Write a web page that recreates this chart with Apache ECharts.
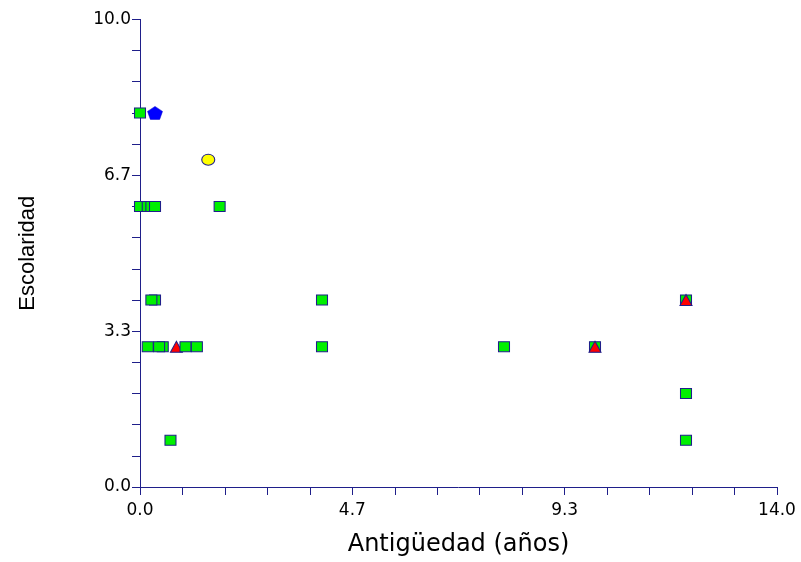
<!DOCTYPE html>
<html>
<head>
<meta charset="utf-8">
<script src="https://cdn.jsdelivr.net/npm/echarts@6/dist/echarts.min.js"></script>
<style>
html,body{margin:0;padding:0;background:#fff;}
#chart{width:801px;height:562px;}
</style>
</head>
<body>
<div id="chart"></div>
<script>
// Green squares (drawn first)
var squareX = [0, 0, 0.17, 0.25, 0.33, 1.75, 0.33, 0.25, 4, 12, 0.17, 0.5, 0.42, 4, 8, 10, 12, 12, 0.67];
var squareY = [8, 6, 6, 6, 6, 6, 4, 4, 4, 4, 3, 3, 3, 3, 3, 3, 2, 1, 1];
// Red triangles
var triangleX = [0.8, 10, 12];
var triangleY = [3, 3, 4];
// Green squares drawn over the triangles
var square2X = [1.0, 1.25];
var square2Y = [3, 3];
// Blue pentagon
var pentagonX = [0.33];
var pentagonY = [8];
// Yellow circle
var circleX = [1.5];
var circleY = [7];

var xTitle = 'Antigüedad (años)';
var yTitle = 'Escolaridad';

function pairs(xs, ys) { return xs.map(function (x, i) { return [x, ys[i]]; }); }

var navy = '#1f1f8a';
var pentagonPath = 'path://M0,-1 L0.951,-0.309 L0.588,0.809 L-0.588,0.809 L-0.951,-0.309 Z';

var chart = echarts.init(document.getElementById('chart'), null, {renderer: 'canvas'});
chart.setOption({
  animation: false,
  backgroundColor: '#ffffff',
  grid: {left: 140, right: 24, top: 19.4, bottom: 69.7, containLabel: false},
  xAxis: {
    type: 'value', min: 0, max: 14, interval: 14 / 3,
    name: xTitle, nameLocation: 'middle', nameGap: 46,
    nameTextStyle: {fontFamily: 'DejaVu Sans', fontSize: 24, color: '#000'},
    axisLine: {onZero: false, lineStyle: {color: navy, width: 1}},
    axisTick: {show: true, inside: false, length: 8, lineStyle: {color: navy}},
    minorTick: {show: true, splitNumber: 5, length: 8, lineStyle: {color: navy}},
    axisLabel: {margin: 15, fontFamily: 'DejaVu Sans', fontSize: 17, color: '#000',
      formatter: function (v) { return v.toFixed(1); }},
    splitLine: {show: false}, minorSplitLine: {show: false}
  },
  yAxis: {
    type: 'value', min: 0, max: 10, interval: 10 / 3,
    name: yTitle, nameLocation: 'middle', nameGap: 101, nameRotate: 90,
    nameTextStyle: {fontFamily: 'Liberation Sans', fontSize: 22, color: '#000'},
    axisLine: {onZero: false, lineStyle: {color: navy, width: 1}},
    axisTick: {show: true, inside: false, length: 8, lineStyle: {color: navy}},
    minorTick: {show: true, splitNumber: 5, length: 8, lineStyle: {color: navy}},
    axisLabel: {margin: 9, fontFamily: 'DejaVu Sans', fontSize: 17, color: '#000',
      formatter: function (v) { return v.toFixed(1); }},
    splitLine: {show: false}, minorSplitLine: {show: false}
  },
  series: [
    {type: 'scatter', data: pairs(squareX, squareY), symbol: 'rect', symbolSize: [11, 10],
      itemStyle: {color: '#00f000', borderColor: navy, borderWidth: 1, opacity: 1}, z: 2},
    {type: 'scatter', data: pairs(triangleX, triangleY), symbol: 'triangle', symbolSize: [12, 11],
      itemStyle: {color: '#ff0000', borderColor: navy, borderWidth: 1, opacity: 1}, z: 3},
    {type: 'scatter', data: pairs(square2X, square2Y), symbol: 'rect', symbolSize: [11, 10],
      itemStyle: {color: '#00f000', borderColor: navy, borderWidth: 1, opacity: 1}, z: 4},
    {type: 'scatter', data: pairs(pentagonX, pentagonY), symbol: pentagonPath, symbolSize: [15, 13],
      symbolKeepAspect: false,
      itemStyle: {color: '#0000ff', borderColor: '#0000cc', borderWidth: 0.5, opacity: 1}, z: 5},
    {type: 'scatter', data: pairs(circleX, circleY), symbol: 'circle', symbolSize: [13, 11],
      itemStyle: {color: '#ffff00', borderColor: navy, borderWidth: 1, opacity: 1}, z: 5}
  ]
});
</script>
</body>
</html>
